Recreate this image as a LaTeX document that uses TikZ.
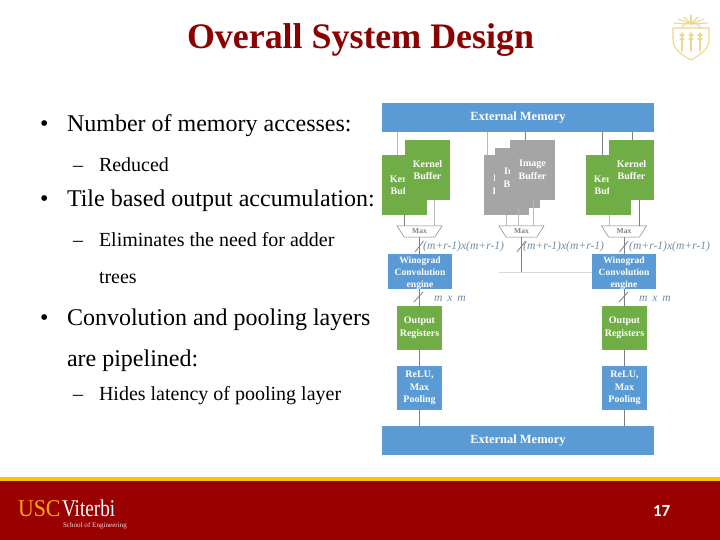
\documentclass[tikz,border=0pt]{standalone}
\usepackage{fontspec}
\setmainfont{Liberation Serif}
\newfontfamily\pagefont{Carlito}
\usetikzlibrary{shapes.geometric}
\definecolor{slidered}{HTML}{990000}
\definecolor{slidegold}{HTML}{FFCC00}
\definecolor{titlered}{HTML}{8B0000}
\definecolor{blk}{HTML}{5B9BD5}
\definecolor{grn}{HTML}{70AD47}
\definecolor{gry}{HTML}{A5A5A5}
\definecolor{logogold}{HTML}{F0D68A}
\definecolor{lbl}{HTML}{6F8CA6}
\definecolor{wire}{HTML}{7F7F7F}
\tikzset{
  txt/.style={anchor=base west,inner sep=0pt,outer sep=0pt,text=black},
  lvlone/.style={txt,font=\fontsize{24}{28}\selectfont},
  lvltwo/.style={txt,font=\fontsize{20}{24}\selectfont},
  box/.style={anchor=north west,inner sep=0pt,outer sep=0pt,text=white,align=center,font=\fontsize{10}{12.5}\selectfont\bfseries},
  bluebox/.style={box,fill=blk},
  greenbox/.style={box,fill=grn},
  greybox/.style={box,fill=gry},
  memory/.style={bluebox,minimum width=272pt,minimum height=29pt,font=\fontsize{12.5}{14}\selectfont\bfseries},
  buffer/.style={minimum width=45pt,minimum height=60pt},
  smallbox/.style={minimum width=45pt,minimum height=44pt},
  engine/.style={bluebox,minimum width=64pt,minimum height=34.5pt},
  enginetext/.style={inner sep=0pt,text=white,align=center,font=\fontsize{9.6}{11.8}\selectfont\bfseries},
  muxshape/.style={trapezium,shape border rotate=180,trapezium stretches=true,trapezium left angle=56,trapezium right angle=56,
    draw=wire,line width=.5pt,minimum width=45pt,minimum height=11pt,inner sep=0pt,outer sep=0pt,text=wire,font=\fontsize{7.5}{8}\selectfont\bfseries},
  wiring/.style={draw=wire,line width=.8pt},
  palewire/.style={draw=gry!80,line width=.8pt},
  sizelabel/.style={anchor=base west,inner sep=0pt,text=lbl,font=\fontsize{11.6}{13}\selectfont\itshape},
  logoline/.style={draw=logogold,line width=1.1pt,line cap=round,line join=round},
}
\begin{document}
\begin{tikzpicture}[x=1pt,y=-1pt]
\useasboundingbox (0,0) rectangle (720,540);
\fill[white] (0,0) rectangle (720,540);

% footer band
\fill[slidegold!85!orange] (0,477) rectangle (720,481);
\fill[slidered] (0,481) rectangle (720,540);
\node[txt,text=orange!75!yellow!90!white,font=\fontsize{24}{24}\selectfont,transform shape,xscale=.91] (usc) at (18,516) {USC};
\node[txt,text=white,font=\fontsize{24}{24}\selectfont,transform shape,xscale=.8] (vit) at (62,516) {Viterbi};
\node[txt,text=white!85!slidered,font=\fontsize{7.1}{8}\selectfont] (soe) at (63,527) {School of Engineering};
\node[txt,text=white,font=\pagefont\bfseries\fontsize{17}{18}\selectfont] (pg) at (653,516) {17};

% title
\node[txt,text=titlered,font=\fontsize{35.9}{40}\selectfont\bfseries] (title) at (187,49) {Overall System Design};

% text
\node[lvlone] (b1) at (40,131.5) {•};
\node[lvlone] (t1) at (67,131.5) {Number of memory accesses:};
\node[lvltwo] (d1) at (73,172) {–};
\node[lvltwo] (t2) at (99,172) {Reduced};
\node[lvlone] (b2) at (40,207) {•};
\node[lvlone] (t3) at (67,207) {Tile based output accumulation:};
\node[lvltwo] (d2) at (73,247) {–};
\node[lvltwo] (t4) at (99,247) {Eliminates the need for adder};
\node[lvltwo] (t5) at (99,283) {trees};
\node[lvlone] (b3) at (40,325) {•};
\node[lvlone] (t6) at (67,325) {Convolution and pooling layers};
\node[lvlone] (t7) at (67,366) {are pipelined:};
\node[lvltwo] (d3) at (73,400) {–};
\node[lvltwo] (t8) at (99,400) {Hides latency of pooling layer};

% logo
\draw[logoline] (673,28) -- (709,28) -- (709,40) .. controls (709,50) and (698,56) .. (691,60) .. controls (684,56) and (673,50) .. (673,40) -- cycle;
\draw[logoline] (682,28) .. controls (682,21) and (700,21) .. (700,28);
\foreach \a/\b in {691/15,684/17,698/17,678/19,704/19,674/23,708/23}{
  \draw[logoline] (691,24) -- (\a,\b);
}
\foreach \a in {682,691,700}{
  \draw[logoline] (\a,33) -- (\a,51);
  \draw[logoline] (\a-2,35) -- (\a+2,35);
  \draw[logoline] (\a-2,39) -- (\a+2,39);
}

% diagram blocks
\node[memory] (memt) at (382,103) {External Memory};
\node[memory] (memb) at (382,426) {External Memory};

\node[greenbox,buffer] (kb1) at (382,155) {Kernel\\Buffer};
\node[greenbox,buffer] (kf1) at (405,140) {Kernel\\Buffer};
\node[greybox,buffer] (ib1) at (484,155) {Image\\Buffer};
\node[greybox,buffer] (ib2) at (495,148) {Image\\Buffer};
\node[greybox,buffer] (ib3) at (510,140) {Image\\Buffer};
\node[greenbox,buffer] (kb2) at (586,155) {Kernel\\Buffer};
\node[greenbox,buffer] (kf2) at (609,140) {Kernel\\Buffer};

\node[muxshape] (mx1) at (419.5,231.5) {Max};
\node[muxshape] (mx2) at (521.5,231.5) {Max};
\node[muxshape] (mx3) at (624,231.5) {Max};

\node[engine] (wg1) at (388,254) {};
\node[engine] (wg2) at (592,254) {};
\node[enginetext,yshift=-2pt] (wgt1) at (wg1.center) {Winograd\\Convolution\\engine};
\node[enginetext,yshift=-2pt] (wgt2) at (wg2.center) {Winograd\\Convolution\\engine};
\node[greenbox,smallbox] (or1) at (397,306) {Output\\Registers};
\node[greenbox,smallbox] (or2) at (602,306) {Output\\Registers};
\node[bluebox,smallbox] (rl1) at (397,366) {ReLU,\\Max\\Pooling};
\node[bluebox,smallbox] (rl2) at (602,366) {ReLU,\\Max\\Pooling};

% memory to buffers
\draw[palewire] ([xshift=15pt]kb1.north west) -- ([xshift=15pt]kb1.north west |- memt.south);
\draw[palewire] ([xshift=3pt]ib1.north west) -- ([xshift=3pt]ib1.north west |- memt.south);
\draw[wiring] ([xshift=15pt]ib3.north west) -- ([xshift=15pt]ib3.north west |- memt.south);
\draw[wiring] ([xshift=16pt]kb2.north west) -- ([xshift=16pt]kb2.north west |- memt.south);
\draw[wiring] ([xshift=23pt]kf2.north west) -- ([xshift=23pt]kf2.north west |- memt.south);

% buffers to mux
\draw[wiring] ([xshift=22pt]kb1.south west) -- ([xshift=22pt]kb1.south west |- mx1.north);
\draw[palewire] ([xshift=29pt]kf1.south west) -- ([xshift=29pt]kf1.south west |- mx1.north);
\draw[palewire] ([xshift=22pt]ib1.south west) -- ([xshift=22pt]ib1.south west |- mx2.north);
\draw[palewire] ([xshift=23pt]ib2.south west) -- ([xshift=23pt]ib2.south west |- mx2.north);
\draw[palewire] ([xshift=23pt]ib3.south west) -- ([xshift=23pt]ib3.south west |- mx2.north);
\draw[palewire] ([xshift=23pt]kb2.south west) -- ([xshift=23pt]kb2.south west |- mx3.north);
\draw[wiring] ([xshift=30pt]kf2.south west) -- ([xshift=30pt]kf2.south west |- mx3.north);

% mux to engines
\coordinate (junction) at (mx2.south |- 0,272.5);
\draw[wiring] (mx1.south) -- (wg1.north -| mx1.south);
\draw[wiring] (mx2.south) -- (junction);
\draw[wiring] (mx3.south) -- (wg2.north -| mx3.south);
\coordinate (linkstart) at (499,272.5);
\draw[draw=gry!45,line width=.6pt] (linkstart) -- (wg2.west |- linkstart);

% engines to output
\draw[wiring] (wg1.south -| or1.north) -- (or1.north);
\draw[wiring] (wg2.south -| or2.north) -- (or2.north);
\draw[wiring] (or1.south) -- (rl1.north);
\draw[wiring] (or2.south) -- (rl2.north);
\draw[wiring] (rl1.south) -- (memb.north -| rl1.south);
\draw[wiring] (rl2.south) -- (memb.north -| rl2.south);

% width slashes
\foreach \x in {415,517,619.5}{
  \draw[wiring] (\x,252) -- (\x+8.5,241);
}
\foreach \x in {414,619}{
  \draw[wiring] (\x,302) -- (\x+9,292);
}

% width labels
\node[sizelabel] (s1) at (423,249) {(m+r-1)x(m+r-1)};
\node[sizelabel] (s2) at (523,249) {(m+r-1)x(m+r-1)};
\node[sizelabel] (s3) at (629,249) {(m+r-1)x(m+r-1)};
\node[sizelabel] (s4) at (434,301.5) {m \,x\, m};
\node[sizelabel] (s5) at (639,301.5) {m \,x\, m};
\end{tikzpicture}
\end{document}
